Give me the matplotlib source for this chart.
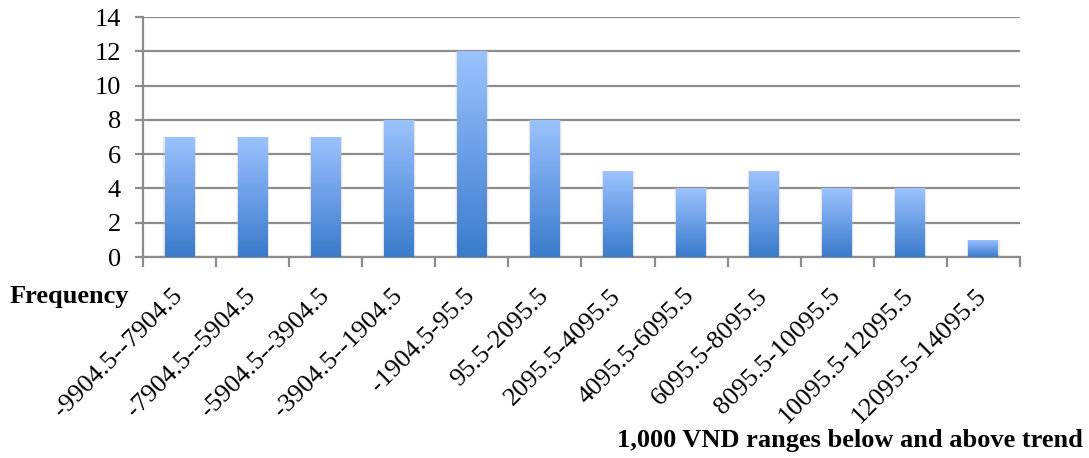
import numpy as np
import matplotlib
matplotlib.use("Agg")
import matplotlib.pyplot as plt
from matplotlib.colors import LinearSegmentedColormap
from matplotlib.transforms import ScaledTranslation

categories = ["-9904.5--7904.5", "-7904.5--5904.5", "-5904.5--3904.5",
              "-3904.5--1904.5", "-1904.5-95.5", "95.5-2095.5",
              "2095.5-4095.5", "4095.5-6095.5", "6095.5-8095.5",
              "8095.5-10095.5", "10095.5-12095.5", "12095.5-14095.5"]
frequency = [7, 7, 7, 8, 12, 8, 5, 4, 5, 4, 4, 1]
y_ticks = [0, 2, 4, 6, 8, 10, 12, 14]

plt.rcParams["font.family"] = ["Liberation Serif", "DejaVu Serif"]
FS = 19

fig = plt.figure(figsize=(10.89, 4.58), dpi=100)
ax = fig.add_axes([143 / 1089, 1 - 257 / 458, 877 / 1089, 240 / 458])

x = np.arange(len(categories))
bars = ax.bar(x, frequency, width=0.41, color="none", edgecolor="none", zorder=3)

grad = LinearSegmentedColormap.from_list("blu", ["#3a7bcb", "#6b9ee6", "#9cc3fd"])
g = np.linspace(0, 1, 256).reshape(-1, 1)
for b in bars:
    x0, w, h = b.get_x(), b.get_width(), b.get_height()
    # soft glow behind each bar
    for pad, a in [(0.05, 0.15), (0.03, 0.25)]:
        ax.bar(x0 + w / 2, h + pad * 0.3, width=w + pad, color="#bdbdbd", alpha=a,
               zorder=2, edgecolor="none")
    im = ax.imshow(g, extent=[x0, x0 + w, 0, h], origin="lower", cmap=grad,
                   aspect="auto", zorder=4)
    im.set_clip_path(b)

ax.set_xlim(-0.5, len(categories) - 0.5)
ax.set_ylim(0, 14)
ax.set_yticks(y_ticks)
ax.set_yticklabels([str(v) for v in y_ticks], fontsize=FS)
ax.yaxis.grid(True, color="#8c8c8c", linewidth=1.6, zorder=1)
ax.set_axisbelow(True)

ax.set_xticks(np.arange(-0.5, len(categories), 1.0))
ax.set_xticklabels([])
ax.set_xticks(x, minor=True)
ax.set_xticklabels(categories, minor=True, rotation=45, ha="right",
                   va="top", rotation_mode="anchor", fontsize=FS)
ax.tick_params(axis="x", which="minor", length=0, pad=20)
ax.tick_params(axis="x", which="major", length=7, width=1.6, color="#8c8c8c")
ax.tick_params(axis="y", length=6, width=1.6, color="#8c8c8c", pad=10)
shift = ScaledTranslation(-8 / 100, 0, fig.dpi_scale_trans)
for lbl in ax.get_xticklabels(minor=True):
    lbl.set_transform(lbl.get_transform() + shift)

for side in ["top", "right"]:
    ax.spines[side].set_visible(False)
for side in ["left", "bottom"]:
    ax.spines[side].set_color("#8c8c8c")
    ax.spines[side].set_linewidth(1.6)

fig.text(10 / 1089, 1 - 297 / 458, "Frequency", fontsize=FS, fontweight="bold",
         ha="left", va="center")
fig.text(1083 / 1089, 1 - 440 / 458, "1,000 VND ranges below and above trend",
         fontsize=FS, fontweight="bold", ha="right", va="center")

fig.savefig("out.png", dpi=100)
